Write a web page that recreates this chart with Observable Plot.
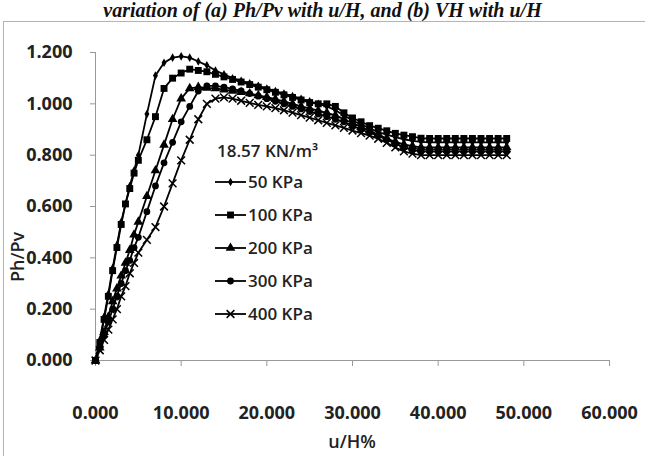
<!DOCTYPE html>
<html><head><meta charset="utf-8">
<script src="https://cdn.jsdelivr.net/npm/d3@7"></script>
<script src="https://cdn.jsdelivr.net/npm/@observablehq/plot@0.6"></script>
<style>
body{margin:0;background:#fff;}
#wrap{position:relative;width:645px;height:456px;overflow:hidden;background:#fff;font-family:"Open Sans",sans-serif;}
#title{position:absolute;left:0;width:645px;top:0px;height:20px;line-height:20px;text-align:center;font-family:"Liberation Serif",serif;font-style:italic;font-weight:bold;font-size:20px;color:#111;white-space:nowrap;}
#frame{position:absolute;left:3px;top:21px;width:680px;height:480px;border:1px solid #b5b5b5;box-shadow:1px 1px 2px #ccc;}
#chart{position:absolute;left:0;top:0;}
#ylab{position:absolute;left:17px;top:257px;transform:translate(-50%,-50%) rotate(-90deg);font-size:18px;font-weight:600;color:#222;white-space:nowrap;}
#xlab{position:absolute;left:352px;top:441px;transform:translate(-50%,-50%);font-size:18px;font-weight:600;color:#222;white-space:nowrap;}
#legend{position:absolute;left:213px;top:137px;font-size:17px;font-weight:600;color:#222;}
#legend .t{height:28px;line-height:28px;padding-left:4px;}
#legend .it{height:33px;display:flex;align-items:center;}
#legend svg{display:block;}
</style></head><body>
<div id="wrap">
  <div id="title"></div>
  <div id="frame"></div>
  <div id="chart"></div>
  <div id="ylab"></div>
  <div id="xlab"></div>
  <div id="legend"></div>
</div>
<script>
// u/H% sample positions shared by all series
const uH = [0,0.5,1,1.5,2,2.5,3,3.5,4,4.5,5,6,7,8,9,10,11,12,13,14,15,16,17,18,19,20,21,22,23,24,25,26,27,28,29,30,31,32,33,34,35,36,37,38,39,40,41,42,43,44,45,46,47,48];

const kpa50  = [0,0.08,0.17,0.26,0.36,0.45,0.54,0.61,0.68,0.74,0.80,0.96,1.11,1.16,1.18,1.185,1.18,1.165,1.15,1.13,1.115,1.10,1.09,1.08,1.07,1.06,1.05,1.04,1.03,1.02,1.01,1.00,0.99,0.975,0.955,0.935,0.92,0.905,0.89,0.88,0.87,0.862,0.856,0.852,0.85,0.85,0.85,0.85,0.85,0.85,0.85,0.85,0.85,0.85];
const kpa100 = [0,0.07,0.16,0.25,0.35,0.44,0.53,0.61,0.67,0.73,0.78,0.86,0.95,1.06,1.10,1.12,1.135,1.13,1.125,1.115,1.105,1.095,1.085,1.075,1.065,1.055,1.045,1.035,1.025,1.015,1.005,1.00,1.00,0.99,0.965,0.945,0.93,0.915,0.905,0.895,0.885,0.878,0.872,0.866,0.865,0.865,0.865,0.865,0.865,0.865,0.865,0.865,0.865,0.865];
const kpa200 = [0,0.05,0.11,0.17,0.23,0.28,0.33,0.38,0.43,0.49,0.54,0.64,0.74,0.84,0.94,1.02,1.06,1.065,1.062,1.06,1.055,1.05,1.045,1.04,1.033,1.026,1.018,1.01,1.00,0.99,0.982,0.974,0.965,0.955,0.94,0.925,0.91,0.895,0.88,0.865,0.852,0.842,0.835,0.83,0.83,0.83,0.83,0.83,0.83,0.83,0.83,0.83,0.83,0.83];
const kpa300 = [0,0.05,0.10,0.15,0.20,0.25,0.30,0.35,0.39,0.44,0.48,0.58,0.68,0.77,0.85,0.93,0.99,1.05,1.07,1.07,1.065,1.058,1.05,1.04,1.03,1.02,1.01,1.00,0.99,0.98,0.97,0.96,0.95,0.94,0.93,0.915,0.90,0.888,0.875,0.86,0.845,0.83,0.82,0.815,0.815,0.815,0.815,0.815,0.815,0.815,0.815,0.815,0.815,0.815];
const kpa400 = [0,0.04,0.08,0.12,0.16,0.20,0.25,0.29,0.34,0.38,0.42,0.47,0.52,0.60,0.69,0.78,0.86,0.94,1.00,1.02,1.025,1.02,1.012,1.004,0.996,0.99,0.983,0.975,0.966,0.956,0.946,0.936,0.926,0.916,0.906,0.896,0.886,0.876,0.864,0.848,0.83,0.815,0.806,0.80,0.80,0.80,0.80,0.80,0.80,0.80,0.80,0.80,0.80,0.80];

const seriesNames = ["50 KPa","100 KPa","200 KPa","300 KPa","400 KPa"];
const seriesValues = [kpa50,kpa100,kpa200,kpa300,kpa400];
const seriesSymbols = ["diamond","square","triangle","circle","times"];
const yTicks = [0,0.2,0.4,0.6,0.8,1.0,1.2];
const xTicks = [0,10,20,30,40,50,60];
const legendTitle = "18.57 KN/m³";
const xTitle = "u/H%";
const yTitle = "Ph/Pv";
const chartTitle = "variation of (a) Ph/Pv with u/H, and (b) VH with u/H";

const symSize = {diamond:2.6, square:3.9, triangle:3.6, circle:3.4, times:3.6};

const marks = [];
seriesValues.forEach((vals, i) => {
  const rows = uH.map((u, j) => ({u, v: vals[j]}));
  marks.push(Plot.line(rows, {x:"u", y:"v", stroke:"#000", strokeWidth:1.8}));
});
seriesValues.forEach((vals, i) => {
  const rows = uH.map((u, j) => ({u, v: vals[j]}));
  const s = seriesSymbols[i];
  if (s === "times") {
    marks.push(Plot.dot(rows, {x:"u", y:"v", symbol:s, r:symSize[s], stroke:"#000", strokeWidth:1.5}));
  } else {
    marks.push(Plot.dot(rows, {x:"u", y:"v", symbol:s, r:symSize[s], fill:"#000", stroke:"none"}));
  }
});

const chart = Plot.plot({
  width:645, height:456,
  marginLeft:95, marginRight:36, marginTop:52, marginBottom:96,
  style:{fontFamily:"'Open Sans',sans-serif", fontSize:"18px", fontWeight:"700", background:"transparent", overflow:"visible"},
  x:{domain:[0,60]},
  y:{domain:[0,1.2]},
  marks:[
    Plot.axisY({ticks:yTicks, tickFormat:d3.format(".3f"), tickSize:5, tickPadding:18, stroke:"#999", fill:"#222", label:null}),
    Plot.axisX({ticks:xTicks, tickFormat:d3.format(".3f"), tickSize:6, tickPadding:40, stroke:"#999", fill:"#222", label:null}),
    Plot.ruleX([0], {stroke:"#999"}),
    Plot.ruleY([0], {stroke:"#999"}),
    ...marks
  ]
});
document.getElementById("chart").appendChild(chart);
document.getElementById("title").textContent = chartTitle;
document.getElementById("xlab").textContent = xTitle;
document.getElementById("ylab").textContent = yTitle;

// legend
const leg = d3.select("#legend");
leg.append("div").attr("class","t").text(legendTitle);
const d3sym = {diamond:d3.symbolDiamond, square:d3.symbolSquare, triangle:d3.symbolTriangle, circle:d3.symbolCircle, times:d3.symbolTimes};
seriesNames.forEach((name, i) => {
  const it = leg.append("div").attr("class","it");
  const svg = it.append("svg").attr("width",34).attr("height",14);
  svg.append("line").attr("x1",2).attr("x2",33).attr("y1",7).attr("y2",7).attr("stroke","#000").attr("stroke-width",1.8);
  const s = seriesSymbols[i];
  const r = symSize[s];
  const p = svg.append("path").attr("transform","translate(17.5,7)")
    .attr("d", d3.symbol(d3sym[s], Math.PI*r*r)());
  if (s === "times") p.attr("fill","none").attr("stroke","#000").attr("stroke-width",1.5);
  else p.attr("fill","#000");
  it.append("span").style("margin-left","1px").text(name);
});
</script>
</body></html>
